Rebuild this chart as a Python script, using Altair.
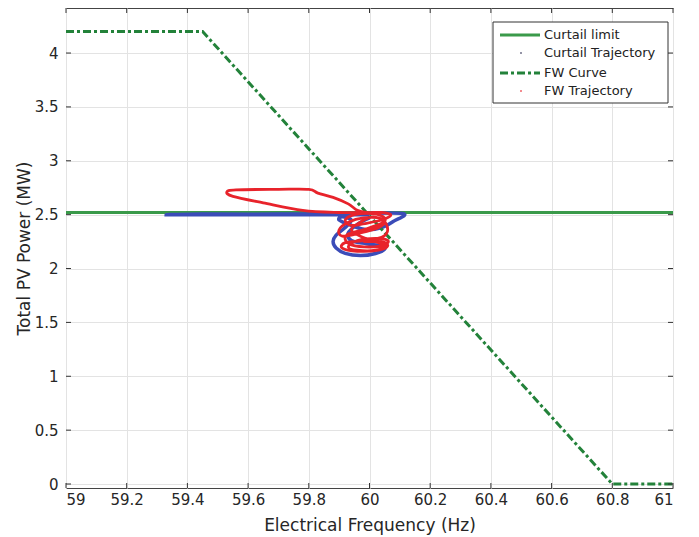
import altair as alt
import pandas as pd

# Curtailment limit (MW) across the frequency window
curtail_level = 2.52
curtail_f = [59.0, 61.0]

# Frequency-Watt curve breakpoints
fw_curve_f = [59.0, 59.45, 60.80, 61.0]
fw_curve_p = [4.2, 4.2, 0.0, 0.0]

# Trajectory under plain curtailment
curtail_traj_f = [60.00, 59.80, 59.60, 59.45, 59.33, 59.45, 59.70, 59.95, 60.11, 60.08,
                  60.04, 59.99, 59.94, 59.90, 59.91, 59.94, 59.92, 59.89, 59.88, 59.89,
                  59.92, 59.97, 60.02, 60.05, 60.04, 59.99, 59.94, 59.93, 59.96, 60.00]
curtail_traj_p = [2.50, 2.50, 2.50, 2.50, 2.50, 2.505, 2.505, 2.51, 2.51, 2.44,
                  2.38, 2.36, 2.40, 2.45, 2.48, 2.45, 2.38, 2.31, 2.25, 2.19,
                  2.14, 2.12, 2.14, 2.18, 2.21, 2.23, 2.26, 2.33, 2.41, 2.47]

# Trajectory under Frequency-Watt control
fw_traj_f = [59.98, 59.90, 59.78, 59.65, 59.55, 59.53, 59.56, 59.70, 59.80, 59.83,
             59.88, 59.93, 59.96, 59.99, 60.04, 60.07, 60.05, 59.99, 59.94, 59.92,
             59.95, 60.01, 60.05, 60.04, 59.98, 59.93, 59.92, 59.94, 60.00, 60.05,
             60.06, 60.02, 59.96, 59.93, 59.96, 60.02, 60.05, 60.03, 59.97, 59.94,
             59.97, 60.01, 60.05, 60.03, 59.97, 59.91, 59.90, 59.93, 59.98, 60.04,
             60.06, 60.04, 59.98, 59.92, 59.91, 59.96, 60.03, 60.06, 60.04, 59.98]
fw_traj_p = [2.52, 2.52, 2.54, 2.61, 2.67, 2.71, 2.73, 2.735, 2.735, 2.70,
             2.66, 2.60, 2.54, 2.52, 2.52, 2.50, 2.46, 2.42, 2.40, 2.45,
             2.50, 2.51, 2.47, 2.42, 2.36, 2.32, 2.27, 2.22, 2.20, 2.22,
             2.26, 2.28, 2.26, 2.20, 2.17, 2.17, 2.21, 2.24, 2.30, 2.36,
             2.43, 2.48, 2.44, 2.38, 2.33, 2.30, 2.36, 2.43, 2.47, 2.46,
             2.36, 2.29, 2.26, 2.24, 2.19, 2.16, 2.17, 2.21, 2.25, 2.25]

x_ticks = [59.0, 59.2, 59.4, 59.6, 59.8, 60.0, 60.2, 60.4, 60.6, 60.8, 61.0]
y_ticks = [0.0, 0.5, 1.0, 1.5, 2.0, 2.5, 3.0, 3.5, 4.0]

legend_labels = ["Curtail limit", "Curtail Trajectory", "FW Curve", "FW Trajectory"]

GREEN = "#3a9a4a"
DKGREEN = "#23823a"
BLUE = "#3b4cb8"
RED = "#e8232b"
FONT = "DejaVu Sans"

W, H = 607, 480
x_scale = alt.Scale(domain=[59, 61], nice=False, zero=False)
y_scale = alt.Scale(domain=[-0.037, 4.418], nice=False, zero=False)

x_axis = alt.Axis(values=x_ticks, title="Electrical Frequency (Hz)", grid=True,
                  ticks=False, domain=False, labelPadding=4, titlePadding=10,
                  labelExpr="datum.value")
y_axis = alt.Axis(values=y_ticks, title="Total PV Power (MW)", grid=True,
                  ticks=False, domain=False, labelPadding=8, titlePadding=1,
                  labelExpr="datum.value")

curtail_df = pd.DataFrame({"f": curtail_f, "p": [curtail_level] * len(curtail_f)})
fw_curve_df = pd.DataFrame({"f": fw_curve_f, "p": fw_curve_p})
ct_df = pd.DataFrame({"f": curtail_traj_f, "p": curtail_traj_p,
                      "i": range(len(curtail_traj_f))})
fw_df = pd.DataFrame({"f": fw_traj_f, "p": fw_traj_p, "i": range(len(fw_traj_f))})

base_axes = alt.Chart(curtail_df).mark_line(opacity=0).encode(
    x=alt.X("f:Q", scale=x_scale, axis=x_axis),
    y=alt.Y("p:Q", scale=y_scale, axis=y_axis),
)

curtail_line = alt.Chart(curtail_df).mark_line(color=GREEN, strokeWidth=3).encode(
    x=alt.X("f:Q", scale=x_scale), y=alt.Y("p:Q", scale=y_scale))

ct_line = alt.Chart(ct_df).mark_line(color=BLUE, strokeWidth=3.5, interpolate="cardinal").encode(
    x=alt.X("f:Q", scale=x_scale), y=alt.Y("p:Q", scale=y_scale), order="i:Q")

fw_curve = alt.Chart(fw_curve_df).mark_line(
    color=DKGREEN, strokeWidth=3, strokeDash=[8, 3, 3, 3]).encode(
    x=alt.X("f:Q", scale=x_scale), y=alt.Y("p:Q", scale=y_scale))

fw_line = alt.Chart(fw_df).mark_line(color=RED, strokeWidth=2.8, interpolate="cardinal").encode(
    x=alt.X("f:Q", scale=x_scale), y=alt.Y("p:Q", scale=y_scale), order="i:Q")

# Inward tick marks on all four sides
xt = pd.DataFrame({"f": x_ticks})
yt = pd.DataFrame({"p": y_ticks})
TICK = "#333333"
ticks = [
    alt.Chart(yt).mark_rule(color=TICK).encode(
        y=alt.Y("p:Q", scale=y_scale), x=alt.value(0), x2=alt.value(5)),
    alt.Chart(yt).mark_rule(color=TICK).encode(
        y=alt.Y("p:Q", scale=y_scale), x=alt.value(W - 5), x2=alt.value(W)),
    alt.Chart(xt).mark_rule(color=TICK).encode(
        x=alt.X("f:Q", scale=x_scale), y=alt.value(H - 5), y2=alt.value(H)),
    alt.Chart(xt).mark_rule(color=TICK).encode(
        x=alt.X("f:Q", scale=x_scale), y=alt.value(0), y2=alt.value(5)),
]

# Legend box
leg_df = pd.DataFrame({"k": [0]})
LX0, LX1, LY0, LY1 = 427, 602, 14, 95
row_y = [27, 45, 65, 83]
legend_layers = [
    alt.Chart(leg_df).mark_rect(fill="white", stroke="#333333", strokeWidth=1).encode(
        x=alt.value(LX0), x2=alt.value(LX1), y=alt.value(LY0), y2=alt.value(LY1)),
    alt.Chart(leg_df).mark_rule(color=GREEN, strokeWidth=3).encode(
        x=alt.value(434), x2=alt.value(474), y=alt.value(row_y[0])),
    alt.Chart(leg_df).mark_point(filled=True, color="#333355", size=4).encode(
        x=alt.value(455), y=alt.value(row_y[1])),
    alt.Chart(leg_df).mark_rule(color=DKGREEN, strokeWidth=3, strokeDash=[8, 3, 3, 3]).encode(
        x=alt.value(434), x2=alt.value(474), y=alt.value(row_y[2])),
    alt.Chart(leg_df).mark_point(filled=True, color=RED, size=4).encode(
        x=alt.value(455), y=alt.value(row_y[3])),
]
for label, ry in zip(legend_labels, row_y):
    legend_layers.append(
        alt.Chart(leg_df).mark_text(text=label, align="left", baseline="middle",
                                    font=FONT, fontSize=13, color="#222222").encode(
            x=alt.value(478), y=alt.value(ry)))

chart = alt.layer(
    base_axes, curtail_line, ct_line, fw_curve, fw_line, *ticks, *legend_layers
).properties(
    width=W, height=H,
    autosize=alt.AutoSizeParams(type="none"),
    padding={"left": 66, "top": 8, "right": 26, "bottom": 49},
    background="white",
).configure_view(
    stroke="#444444", strokeWidth=1
).configure_axis(
    gridColor="#e3e3e3", gridWidth=1,
    labelFont=FONT, labelFontSize=15, labelColor="#262626",
    titleFont=FONT, titleFontSize=17, titleColor="#262626", titleFontWeight="normal",
)

chart.save("out.html", embed_options={"renderer": "svg", "actions": False})
